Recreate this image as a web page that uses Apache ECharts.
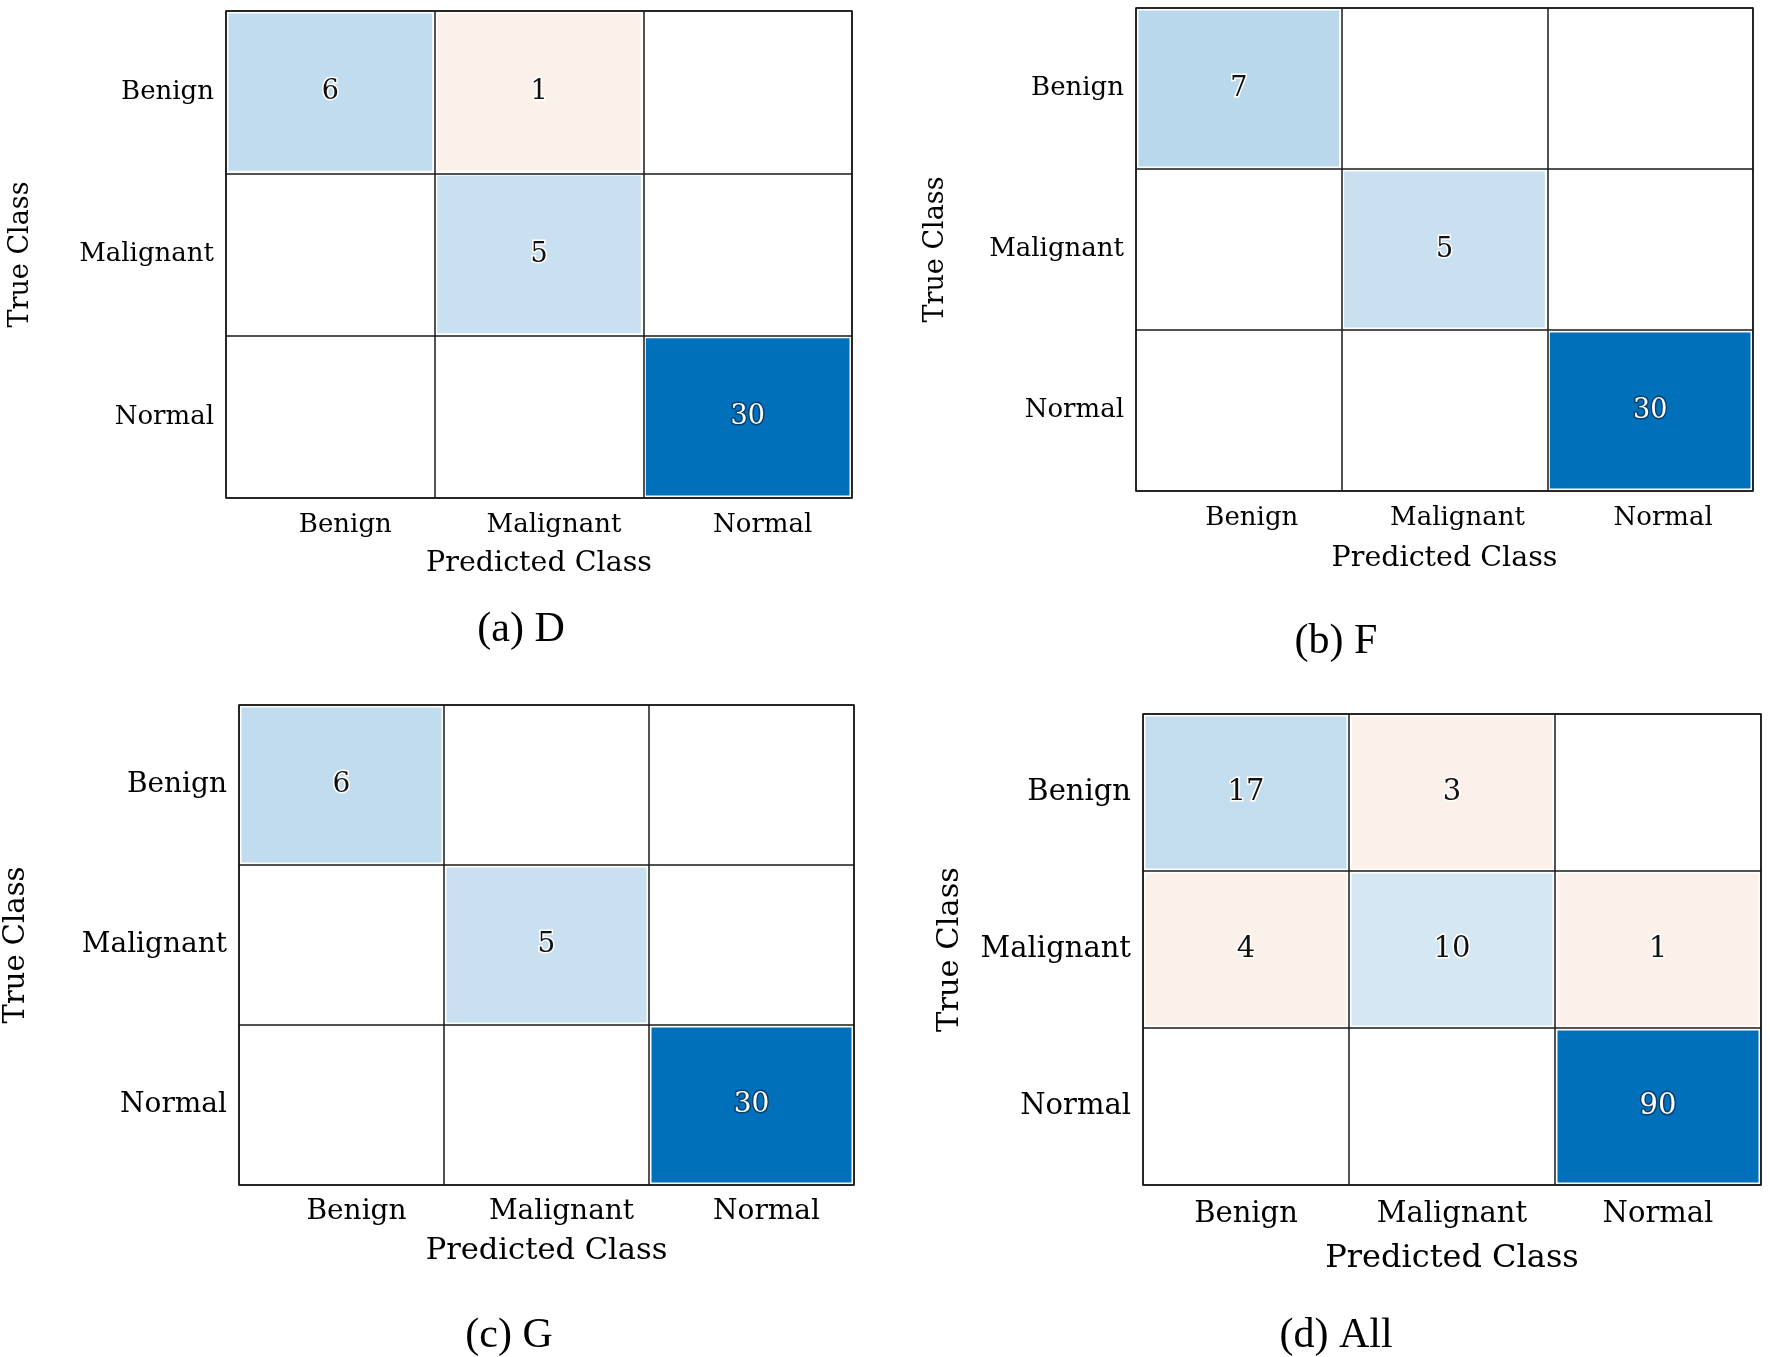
<!DOCTYPE html>
<html>
<head>
<meta charset="utf-8">
<script src="https://cdn.jsdelivr.net/npm/echarts@6/dist/echarts.min.js"></script>
<style>
html,body{margin:0;padding:0;background:#fff;}
#chart{width:1770px;height:1357px;}
</style>
</head>
<body>
<div id="chart"></div>
<script>
// ---- data ----
const classes = ['Benign', 'Malignant', 'Normal'];
const matD   = [[6, 1, 0], [0, 5, 0], [0, 0, 30]];
const matF   = [[7, 0, 0], [0, 5, 0], [0, 0, 30]];
const matG   = [[6, 0, 0], [0, 5, 0], [0, 0, 30]];
const matAll = [[17, 3, 0], [4, 10, 1], [0, 0, 90]];
const captions = ['(a) D', '(b) F', '(c) G', '(d) All'];
const xName = 'Predicted Class';
const yName = 'True Class';

// ---- layout / style ----
const panels = [
  {mat: matD,   grid: {left: 226, top: 11,  width: 626, height: 487}, fs: 26, vfs: 27, nameFs: 28.5, nameGap: 51, xMargin: 14, yGap: 192, xPad: 30, cap: [521, 630]},
  {mat: matF,   grid: {left: 1136, top: 8,  width: 617, height: 483}, fs: 26, vfs: 27, nameFs: 28.5, nameGap: 53, xMargin: 14, yGap: 187, xPad: 26, cap: [1336, 642]},
  {mat: matG,   grid: {left: 239, top: 705, width: 615, height: 480}, fs: 28, vfs: 28, nameFs: 30.5, nameGap: 51, xMargin: 13, yGap: 208, xPad: 30, cap: [509, 1336]},
  {mat: matAll, grid: {left: 1143, top: 714, width: 618, height: 471}, fs: 29, vfs: 29, nameFs: 32, nameGap: 58, xMargin: 15, yGap: 177, xPad: 0, cap: [1336, 1336]}
];
const FONT = '"DejaVu Serif", serif';
const DARK = [0, 112, 186];

function mix(f) {
  const r = Math.round(255 + (DARK[0] - 255) * f);
  const g = Math.round(255 + (DARK[1] - 255) * f);
  const b = Math.round(255 + (DARK[2] - 255) * f);
  return 'rgb(' + r + ',' + g + ',' + b + ')';
}

const chart = echarts.init(document.getElementById('chart'), null, {renderer: 'canvas'});

const grids = [], xAxes = [], yAxes = [], series = [], graphics = [];
panels.forEach((p, i) => {
  const mx = Math.max(...p.mat.flat());
  grids.push(Object.assign({show: true, borderColor: '#1a1a1a', borderWidth: 1.5, backgroundColor: '#fff'}, p.grid));
  xAxes.push({
    type: 'category', gridIndex: i, data: classes, position: 'bottom',
    axisLine: {show: false}, axisTick: {show: false},
    splitLine: {show: true, interval: 0, lineStyle: {color: '#1a1a1a', width: 1.5}},
    axisLabel: {fontFamily: FONT, fontSize: p.fs, color: '#000', margin: p.xMargin, interval: 0, padding: [0, 0, 0, p.xPad]},
    name: xName, nameLocation: 'middle', nameGap: p.nameGap,
    nameTextStyle: {fontFamily: FONT, fontSize: p.nameFs, color: '#000'}
  });
  yAxes.push({
    type: 'category', gridIndex: i, data: classes, inverse: true,
    axisLine: {show: false}, axisTick: {show: false},
    splitLine: {show: true, interval: 0, lineStyle: {color: '#1a1a1a', width: 1.5}},
    axisLabel: {fontFamily: FONT, fontSize: p.fs, color: '#000', margin: 12, interval: 0},
    name: yName, nameLocation: 'middle', nameGap: p.yGap, nameRotate: 90,
    nameTextStyle: {fontFamily: FONT, fontSize: p.nameFs - 1.5, color: '#000'}
  });
  const data = [];
  p.mat.forEach((row, r) => row.forEach((v, c) => data.push([c, r, v])));
  series.push({
    type: 'custom', xAxisIndex: i, yAxisIndex: i, data: data, z: 5,
    renderItem: function (params, api) {
      const c = api.value(0), r = api.value(1), v = api.value(2);
      const pt = api.coord([c, r]);
      const sz = api.size([1, 1]);
      const inset = 2.5;
      let fill = '#fff', txt = '', tfill = '#111', tstroke = '#fff';
      if (v > 0) {
        if (c === r) {
          const f = v === mx ? 1 : 0.075 + 0.85 * v / mx;
          fill = mix(f);
          if (f > 0.6) { tfill = '#fff'; tstroke = '#08406e'; }
        } else {
          fill = '#fcf0eb';
        }
        txt = String(v);
      }
      return {
        type: 'rect',
        shape: {x: pt[0] - sz[0] / 2 + inset, y: pt[1] - sz[1] / 2 + inset, width: sz[0] - 2 * inset, height: sz[1] - 2 * inset},
        style: {fill: fill},
        textContent: {
          style: {text: txt, fill: tfill, stroke: tstroke, lineWidth: 3, font: p.vfs + 'px ' + FONT}
        },
        textConfig: {position: 'inside'}
      };
    }
  });
  graphics.push({
    type: 'text', x: p.cap[0], y: p.cap[1],
    style: {text: captions[i], font: '42px "Liberation Serif", "Times New Roman", serif', fill: '#000',
            align: 'center', verticalAlign: 'middle', textAlign: 'center', textVerticalAlign: 'middle'}
  });
});

chart.setOption({
  backgroundColor: '#fff',
  animation: false,
  grid: grids,
  xAxis: xAxes,
  yAxis: yAxes,
  series: series,
  graphic: graphics
});
</script>
</body>
</html>
